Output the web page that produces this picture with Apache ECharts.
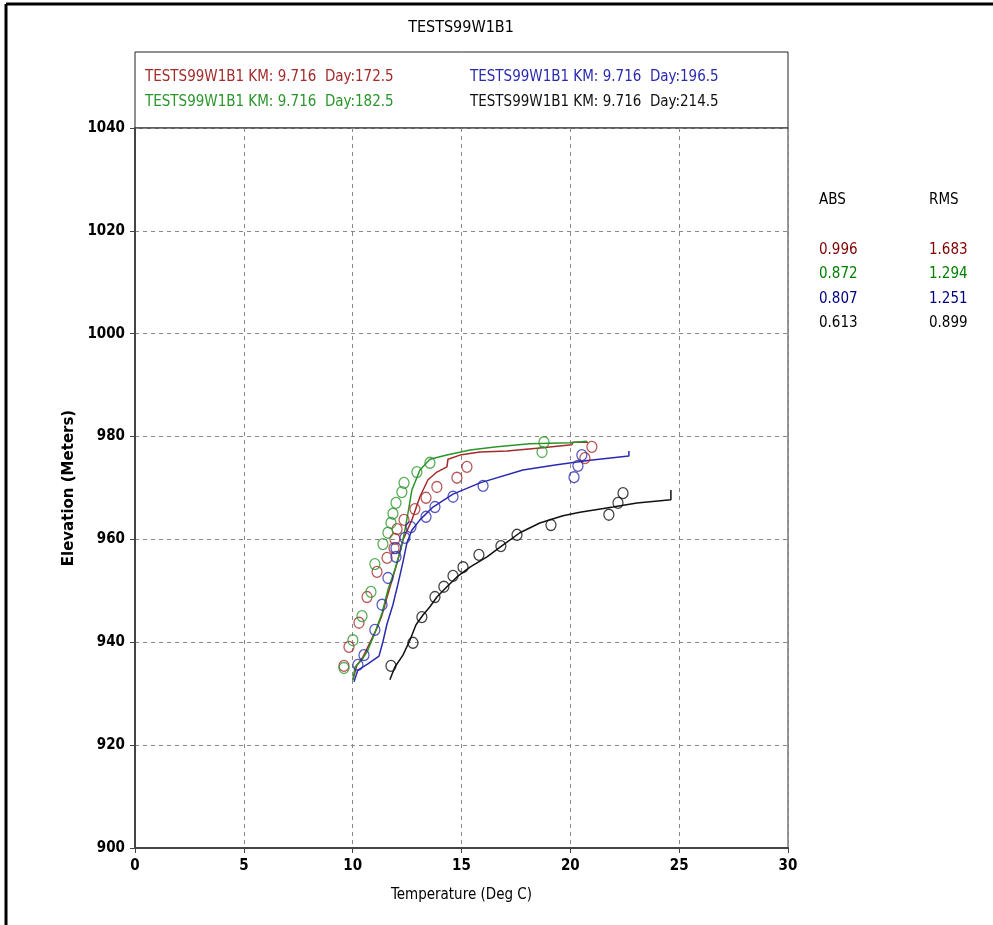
<!DOCTYPE html>
<html>
<head>
<meta charset="utf-8">
<script src="https://cdn.jsdelivr.net/npm/echarts@6/dist/echarts.min.js"></script>
<style>
  html, body { margin: 0; padding: 0; background: #fff; }
  #chart { width: 993px; height: 925px; }
</style>
</head>
<body>
<div id="chart"></div>
<script>
// chart title and axis texts
const chartTitle = 'TESTS99W1B1';
const xAxisName = 'Temperature (Deg C)';
const yAxisName = 'Elevation (Meters)';

// series labels (legend text)
const seriesNames = [
  'TESTS99W1B1 KM: 9.716  Day:172.5',
  'TESTS99W1B1 KM: 9.716  Day:182.5',
  'TESTS99W1B1 KM: 9.716  Day:196.5',
  'TESTS99W1B1 KM: 9.716  Day:214.5'
];
const lineColors = ['#a52a2a', '#2a962a', '#2a2ab0', '#111111'];
const statColors = ['#800000', '#008000', '#000080', '#000000'];

// error stats
const absVals = ['0.996', '0.872', '0.807', '0.613'];
const rmsVals = ['1.683', '1.294', '1.251', '0.899'];

// measured points [temperature, elevation]
const obsDay172 = [
  [9.60, 935.4], [9.83, 939.1], [10.29, 943.8], [10.66, 948.8], [11.12, 953.7],
  [11.58, 956.4], [11.90, 958.3], [11.94, 960.1], [12.04, 962.0], [12.36, 963.8],
  [12.86, 965.9], [13.37, 968.1], [13.87, 970.2], [14.79, 972.0], [15.25, 974.1],
  [20.67, 975.8], [20.99, 978.0]
];
const obsDay182 = [
  [9.60, 935.0], [10.01, 940.4], [10.43, 945.1], [10.84, 949.8], [11.02, 955.2],
  [11.39, 959.1], [11.62, 961.3], [11.76, 963.2], [11.85, 965.0], [11.99, 967.1],
  [12.26, 969.2], [12.36, 971.0], [12.95, 973.1], [13.55, 974.9], [18.70, 977.0],
  [18.79, 978.9]
];
const obsDay196 = [
  [10.24, 935.6], [10.52, 937.5], [11.02, 942.4], [11.35, 947.3], [11.62, 952.5],
  [11.99, 956.6], [11.99, 958.3], [12.40, 960.3], [12.68, 962.4], [13.37, 964.4],
  [13.78, 966.3], [14.61, 968.3], [15.99, 970.4], [20.17, 972.1], [20.35, 974.3],
  [20.53, 976.4]
];
const obsDay214 = [
  [11.76, 935.4], [12.77, 939.9], [13.18, 944.9], [13.78, 948.8], [14.19, 950.8],
  [14.61, 952.9], [15.07, 954.6], [15.80, 957.0], [16.81, 958.7], [17.55, 960.9],
  [19.11, 962.8], [21.77, 964.8], [22.19, 967.1], [22.42, 969.0]
];

// simulated profiles [temperature, elevation]
const simDay172 = [
  [10.01, 932.7], [10.20, 935.6], [10.47, 937.1], [10.79, 939.9], [11.12, 942.8],
  [11.35, 945.3], [11.58, 948.8], [11.81, 952.1], [12.04, 955.4], [12.31, 959.9],
  [12.72, 963.8], [13.09, 968.3], [13.46, 971.6], [13.87, 973.1], [14.33, 974.1],
  [14.38, 975.6], [14.93, 976.4], [15.85, 977.0], [17.09, 977.2], [18.60, 977.8],
  [20.07, 978.4], [20.12, 978.9], [20.81, 978.9]
];
const simDay182 = [
  [10.01, 932.7], [10.11, 935.2], [10.43, 936.6], [10.70, 938.5], [11.02, 941.8],
  [11.35, 945.7], [11.62, 950.2], [11.94, 954.1], [12.26, 958.9], [12.40, 961.8],
  [12.54, 965.1], [12.72, 969.6], [13.09, 973.5], [13.55, 975.6], [14.33, 976.4],
  [15.39, 977.4], [16.63, 978.0], [18.14, 978.6], [19.98, 978.8], [20.07, 979.1],
  [20.76, 979.1]
];
const simDay196 = [
  [10.06, 932.3], [10.24, 934.6], [10.70, 935.8], [11.21, 937.3], [11.39, 940.1],
  [11.58, 943.6], [11.85, 947.3], [12.08, 951.3], [12.31, 955.6], [12.49, 959.3],
  [12.72, 961.8], [13.09, 963.8], [13.69, 966.3], [14.61, 968.8], [15.85, 971.0],
  [17.82, 973.5], [19.38, 974.5], [20.90, 975.4], [22.69, 976.2], [22.69, 977.2]
];
const simDay214 = [
  [11.71, 932.7], [11.94, 935.2], [12.31, 937.5], [12.63, 940.4], [12.91, 943.4],
  [13.23, 945.3], [13.55, 946.9], [13.87, 948.8], [14.33, 950.8], [14.79, 952.7],
  [15.39, 954.6], [16.17, 956.6], [16.90, 958.9], [17.68, 961.3], [18.60, 963.2],
  [19.66, 964.6], [20.44, 965.3], [21.96, 966.3], [23.06, 967.1], [24.62, 967.7],
  [24.62, 969.6]
];

const observed = [obsDay172, obsDay182, obsDay196, obsDay214];
const simulated = [simDay172, simDay182, simDay196, simDay214];

const narrowFont = '"Liberation Sans Narrow", "DejaVu Sans Condensed", Arial, sans-serif';

const chart = echarts.init(document.getElementById('chart'));

const series = [];
simulated.forEach((d, i) => {
  series.push({
    name: seriesNames[i],
    type: 'line',
    data: d,
    showSymbol: false,
    symbol: 'none',
    lineStyle: { color: lineColors[i], width: 1.5 },
    silent: true,
    z: 3
  });
});
observed.forEach((d, i) => {
  series.push({
    name: seriesNames[i] + ' obs',
    type: 'scatter',
    data: d,
    symbol: 'circle',
    symbolSize: [10, 11],
    itemStyle: { color: 'rgba(0,0,0,0)', borderColor: lineColors[i], borderWidth: 1.3 },
    silent: true,
    z: 4
  });
});

// legend box texts and stat table
const graphics = [
  // page border
  { type: 'line', shape: { x1: 6, y1: 4, x2: 6, y2: 925 }, style: { stroke: '#000', lineWidth: 3 } },
  { type: 'line', shape: { x1: 6, y1: 4, x2: 993, y2: 4 }, style: { stroke: '#000', lineWidth: 3 } },
  // legend box
  { type: 'rect', shape: { x: 135, y: 52, width: 653, height: 76 },
    style: { fill: 'none', stroke: '#222', lineWidth: 1 } },
  { type: 'text', x: 461, y: 28,
    style: { text: chartTitle, font: '16px ' + narrowFont, fill: '#000', align: 'center', verticalAlign: 'middle' } }
];
const legendPos = [[145, 77], [145, 102], [470, 77], [470, 102]];
seriesNames.forEach((n, i) => {
  graphics.push({ type: 'text', x: legendPos[i][0], y: legendPos[i][1],
    style: { text: n, font: '15px ' + narrowFont, fill: lineColors[i], verticalAlign: 'middle' } });
});
graphics.push({ type: 'text', x: 819, y: 200,
  style: { text: 'ABS', font: '15px ' + narrowFont, fill: '#000', verticalAlign: 'middle' } });
graphics.push({ type: 'text', x: 929, y: 200,
  style: { text: 'RMS', font: '15px ' + narrowFont, fill: '#000', verticalAlign: 'middle' } });
absVals.forEach((v, i) => {
  const y = 250 + i * 24.5;
  graphics.push({ type: 'text', x: 819, y: y,
    style: { text: v, font: '15px ' + narrowFont, fill: statColors[i], verticalAlign: 'middle' } });
  graphics.push({ type: 'text', x: 929, y: y,
    style: { text: rmsVals[i], font: '15px ' + narrowFont, fill: statColors[i], verticalAlign: 'middle' } });
});

const option = {
  backgroundColor: '#fff',
  animation: false,
  grid: {
    left: 135,
    right: 205,
    top: 128,
    bottom: 77,
    show: true,
    borderColor: '#333',
    borderWidth: 1
  },
  xAxis: {
    type: 'value',
    min: 0,
    max: 30,
    interval: 5,
    name: xAxisName,
    nameLocation: 'middle',
    nameGap: 40,
    nameTextStyle: { fontFamily: narrowFont, fontSize: 15, color: '#000' },
    axisLine: { lineStyle: { color: '#444', width: 2 } },
    axisTick: { show: true, length: 5, lineStyle: { color: '#444' } },
    axisLabel: { fontFamily: narrowFont, fontSize: 15, fontWeight: 'bold', color: '#000', margin: 11 },
    splitLine: { show: true, lineStyle: { color: '#888', type: [4, 4], width: 1 } }
  },
  yAxis: {
    type: 'value',
    min: 900,
    max: 1040,
    interval: 20,
    name: yAxisName,
    nameLocation: 'middle',
    nameGap: 45,
    nameTextStyle: { fontFamily: '"DejaVu Sans", sans-serif', fontSize: 15, fontWeight: 'bold', color: '#000' },
    axisLine: { lineStyle: { color: '#444', width: 2 } },
    axisTick: { show: true, length: 5, lineStyle: { color: '#444' } },
    axisLabel: {
      fontFamily: narrowFont, fontSize: 15, fontWeight: 'bold', color: '#000', margin: 10,
      formatter: (v) => String(v)
    },
    splitLine: { show: true, lineStyle: { color: '#888', type: [4, 4], width: 1 } }
  },
  graphic: graphics,
  series: series
};

chart.setOption(option);
window.addEventListener('resize', chart.resize);
</script>
</body>
</html>
